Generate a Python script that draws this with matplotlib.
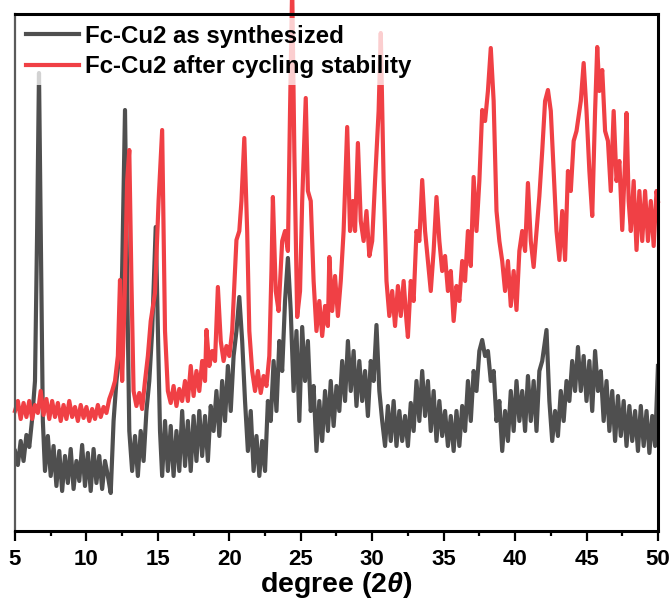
import matplotlib
matplotlib.use("Agg")
import matplotlib.pyplot as plt
import numpy as np

plt.rcParams['font.family'] = ['Liberation Sans', 'DejaVu Sans']
plt.rcParams['font.weight'] = 'bold'
plt.rcParams['mathtext.fontset'] = 'custom'
plt.rcParams['mathtext.it'] = 'Liberation Sans:italic:bold'
plt.rcParams['mathtext.rm'] = 'Liberation Sans:bold'

# XRD pattern, as synthesized (2theta in degrees, intensity in a.u.)
black_2theta = [5.0, 5.2, 5.4, 5.6, 5.8, 6.0, 6.2, 6.4, 6.55, 6.68, 6.8, 6.95, 7.1, 7.3, 7.5, 7.7, 7.9,
                8.1, 8.3, 8.5, 8.7, 8.9, 9.1, 9.3, 9.5, 9.7, 9.9, 10.1, 10.3, 10.5, 10.7, 10.9, 11.1,
                11.3, 11.5, 11.7, 11.9, 12.1, 12.3, 12.5, 12.7, 12.85, 13.0, 13.2, 13.4, 13.6, 13.8,
                14.0, 14.2, 14.4, 14.6, 14.85, 15.0, 15.15, 15.3, 15.5, 15.7, 15.9, 16.1, 16.3, 16.5,
                16.7, 16.9, 17.1, 17.3, 17.5, 17.7, 17.9, 18.1, 18.3, 18.5, 18.7, 18.9, 19.1, 19.3,
                19.5, 19.7, 19.9, 20.1, 20.3, 20.5, 20.7, 20.9, 21.1, 21.3, 21.5, 21.7, 21.9, 22.1,
                22.3, 22.5, 22.7, 22.9, 23.1, 23.3, 23.5, 23.7, 23.9, 24.1, 24.3, 24.5, 24.7, 24.9,
                25.1, 25.3, 25.5, 25.7, 25.9, 26.1, 26.3, 26.5, 26.7, 26.9, 27.1, 27.3, 27.5, 27.7,
                27.9, 28.1, 28.3, 28.5, 28.7, 28.9, 29.1, 29.3, 29.5, 29.7, 29.9, 30.1, 30.3, 30.5,
                30.7, 30.9, 31.1, 31.3, 31.5, 31.7, 31.9, 32.1, 32.3, 32.5, 32.7, 32.9, 33.1, 33.3,
                33.5, 33.7, 33.9, 34.1, 34.3, 34.5, 34.7, 34.9, 35.1, 35.3, 35.5, 35.7, 35.9, 36.1,
                36.3, 36.5, 36.7, 36.9, 37.1, 37.3, 37.5, 37.7, 37.9, 38.1, 38.3, 38.5, 38.7, 38.9,
                39.1, 39.3, 39.5, 39.7, 39.9, 40.1, 40.3, 40.5, 40.7, 40.9, 41.1, 41.3, 41.5, 41.7,
                41.9, 42.2, 42.4, 42.6, 42.8, 43.0, 43.2, 43.4, 43.6, 43.8, 44.0, 44.2, 44.4, 44.6,
                44.8, 45.0, 45.2, 45.4, 45.6, 45.8, 46.0, 46.2, 46.4, 46.6, 46.8, 47.0, 47.2, 47.4,
                47.6, 47.8, 48.0, 48.2, 48.4, 48.6, 48.8, 49.0, 49.2, 49.4, 49.6, 49.8, 50.0]
black_counts = [80, 66, 90, 70, 96, 84, 112, 150, 300, 458, 300, 110, 60, 95, 55, 85, 45,
                80, 40, 75, 48, 82, 42, 70, 50, 86, 45, 78, 40, 82, 48, 75, 42,
                70, 55, 38, 110, 150, 175, 260, 421, 250, 100, 60, 95, 55, 100,
                70, 120, 150, 200, 304, 200, 100, 55, 110, 60, 105, 55, 100, 60,
                120, 65, 110, 60, 115, 70, 120, 75, 115, 70, 125, 100, 140, 95,
                150, 110, 165, 120, 175, 200, 234, 190, 130, 80, 120, 60, 95, 55,
                90, 60, 130, 110, 170, 120, 190, 160, 230, 273, 220, 140, 200, 110,
                204, 150, 190, 120, 145, 80, 130, 90, 140, 100, 150, 105, 145, 120,
                170, 130, 190, 140, 180, 125, 170, 130, 160, 115, 170, 150, 206, 140,
                110, 85, 125, 90, 130, 85, 120, 90, 115, 85, 128, 100, 150, 110,
                160, 115, 150, 100, 140, 90, 130, 95, 120, 85, 115, 80, 120, 85,
                125, 100, 150, 110, 160, 140, 180, 191, 175, 180, 150, 160, 110, 130,
                80, 120, 90, 140, 100, 150, 110, 140, 100, 155, 110, 150, 100, 160,
                170, 201, 130, 90, 120, 95, 140, 110, 150, 130, 170, 140, 184, 140,
                175, 130, 170, 120, 180, 140, 160, 110, 150, 100, 140, 90, 135, 95,
                130, 85, 125, 90, 120, 80, 125, 85, 120, 78, 115, 85, 165]

# XRD pattern after cycling stability test
red_2theta = [5.0, 5.2, 5.4, 5.6, 5.8, 6.0, 6.2, 6.4, 6.6, 6.8, 7.0, 7.2, 7.4, 7.6, 7.8, 8.0, 8.2,
              8.4, 8.6, 8.8, 9.0, 9.2, 9.4, 9.6, 9.8, 10.0, 10.2, 10.4, 10.6, 10.8, 11.0, 11.2,
              11.4, 11.6, 11.8, 12.0, 12.2, 12.35, 12.5, 12.65, 12.85, 13.0, 13.15, 13.3, 13.5,
              13.7, 13.9, 14.1, 14.3, 14.5, 14.8, 15.05, 15.3, 15.5, 15.7, 15.9, 16.1, 16.3,
              16.5, 16.7, 16.9, 17.1, 17.3, 17.5, 17.7, 17.9, 18.1, 18.3, 18.4, 18.6, 18.8,
              19.0, 19.2, 19.4, 19.6, 19.8, 20.0, 20.2, 20.5, 20.7, 20.85, 21.05, 21.25, 21.4,
              21.6, 21.8, 22.0, 22.2, 22.4, 22.6, 22.8, 22.95, 23.05, 23.25, 23.45, 23.7, 23.9,
              24.1, 24.25, 24.4, 24.55, 24.75, 24.95, 25.1, 25.35, 25.5, 25.7, 25.9, 26.1, 26.3,
              26.5, 26.7, 26.9, 27.0, 27.2, 27.4, 27.6, 27.8, 28.0, 28.25, 28.45, 28.65, 28.8,
              29.0, 29.2, 29.4, 29.6, 29.8, 30.0, 30.2, 30.45, 30.6, 30.8, 31.0, 31.2, 31.4,
              31.6, 31.8, 32.0, 32.2, 32.4, 32.5, 32.7, 32.9, 33.1, 33.3, 33.5, 33.7, 33.9,
              34.1, 34.3, 34.5, 34.7, 34.9, 35.1, 35.3, 35.5, 35.7, 35.9, 36.1, 36.3, 36.5,
              36.7, 36.9, 37.1, 37.3, 37.5, 37.7, 37.9, 38.1, 38.3, 38.5, 38.7, 38.9, 39.1,
              39.3, 39.5, 39.7, 39.9, 40.1, 40.3, 40.5, 40.7, 40.9, 41.1, 41.3, 41.5, 41.7,
              41.9, 42.1, 42.3, 42.5, 42.7, 42.9, 43.1, 43.3, 43.5, 43.7, 43.9, 44.1, 44.3,
              44.6, 44.8, 45.0, 45.2, 45.4, 45.6, 45.75, 45.9, 46.1, 46.3, 46.5, 46.7, 46.9,
              47.1, 47.3, 47.5, 47.7, 47.8, 47.95, 48.1, 48.3, 48.5, 48.7, 48.9, 49.1, 49.3,
              49.5, 49.7, 49.9, 50.0]
red_counts = [120, 130, 112, 128, 114, 130, 112, 126, 118, 140, 116, 132, 112, 130, 114, 128, 110,
              126, 112, 130, 114, 124, 110, 126, 113, 124, 110, 122, 112, 126, 114, 124,
              118, 132, 140, 150, 175, 251, 150, 220, 350, 381, 250, 140, 125,
              138, 122, 150, 175, 210, 238, 330, 401, 200, 140, 128, 145, 125,
              142, 130, 150, 130, 165, 135, 160, 140, 170, 150, 201, 165, 180,
              170, 244, 190, 170, 185, 175, 200, 291, 300, 330, 393, 300, 200,
              160, 140, 160, 138, 155, 145, 175, 260, 334, 240, 220, 290, 300,
              280, 420, 545, 380, 214, 240, 330, 433, 340, 330, 250, 200, 230,
              195, 225, 205, 274, 220, 255, 215, 250, 300, 404, 300, 330, 300,
              388, 310, 290, 320, 275, 290, 350, 420, 498, 350, 250, 215, 240,
              205, 245, 215, 250, 210, 194, 250, 230, 300, 290, 351, 300, 270,
              240, 280, 334, 290, 260, 275, 240, 260, 210, 245, 230, 270, 250,
              300, 265, 354, 300, 350, 421, 410, 440, 483, 430, 320, 290, 270,
              240, 270, 225, 260, 221, 280, 300, 280, 348, 290, 264, 300, 335,
              380, 430, 441, 420, 360, 300, 271, 320, 271, 360, 340, 390, 400,
              430, 468, 420, 360, 315, 420, 484, 440, 461, 400, 390, 340, 420,
              350, 370, 301, 370, 418, 330, 300, 350, 281, 340, 290, 340, 290,
              330, 285, 340, 330]

labels = ['Fc-Cu2 as synthesized', 'Fc-Cu2 after cycling stability']
colors = ['#4f4f4f', '#f04045']

fig = plt.figure(figsize=(6.72, 6.04), dpi=100)
ax = fig.add_axes([0.0223, 0.1209, 0.9568, 0.8559])

ax.plot(black_2theta, black_counts, color=colors[0], lw=3.0, label=labels[0],
        solid_joinstyle='round')
ax.plot(red_2theta, red_counts, color=colors[1], lw=3.0, label=labels[1], clip_on=False,
        solid_joinstyle='round')

ax.set_xlim(5, 50)
ax.set_ylim(0, 517)
ax.set_xticks(np.arange(5, 51, 5))
ax.set_xticks(np.arange(7.5, 50, 5), minor=True)
ax.set_yticks([])
ax.tick_params(axis='x', which='major', direction='out', length=7, width=1.6,
               labelsize=16, pad=6)
ax.tick_params(axis='x', which='minor', direction='out', length=3.5, width=1.6)
for lbl in ax.get_xticklabels():
    lbl.set_fontweight('bold')

for side in ['top', 'right', 'bottom']:
    ax.spines[side].set_linewidth(2.2)
    ax.spines[side].set_color('black')
ax.spines['left'].set_linewidth(1.6)
ax.spines['left'].set_color('#5a5a5a')

ax.set_xlabel(r'degree (2$\mathit{\theta}$)', fontsize=20.5, fontweight='bold', labelpad=0)

leg = ax.legend(loc='upper left', fontsize=17.3, frameon=True, framealpha=0.75,
                edgecolor='none', fancybox=False, handlelength=2.2, handletextpad=0.25,
                labelspacing=0.3, borderaxespad=0.15, borderpad=0.3)
for t in leg.get_texts():
    t.set_fontweight('bold')
for h in leg.get_lines():
    h.set_linewidth(3.0)

fig.savefig('out.png', dpi=100)
